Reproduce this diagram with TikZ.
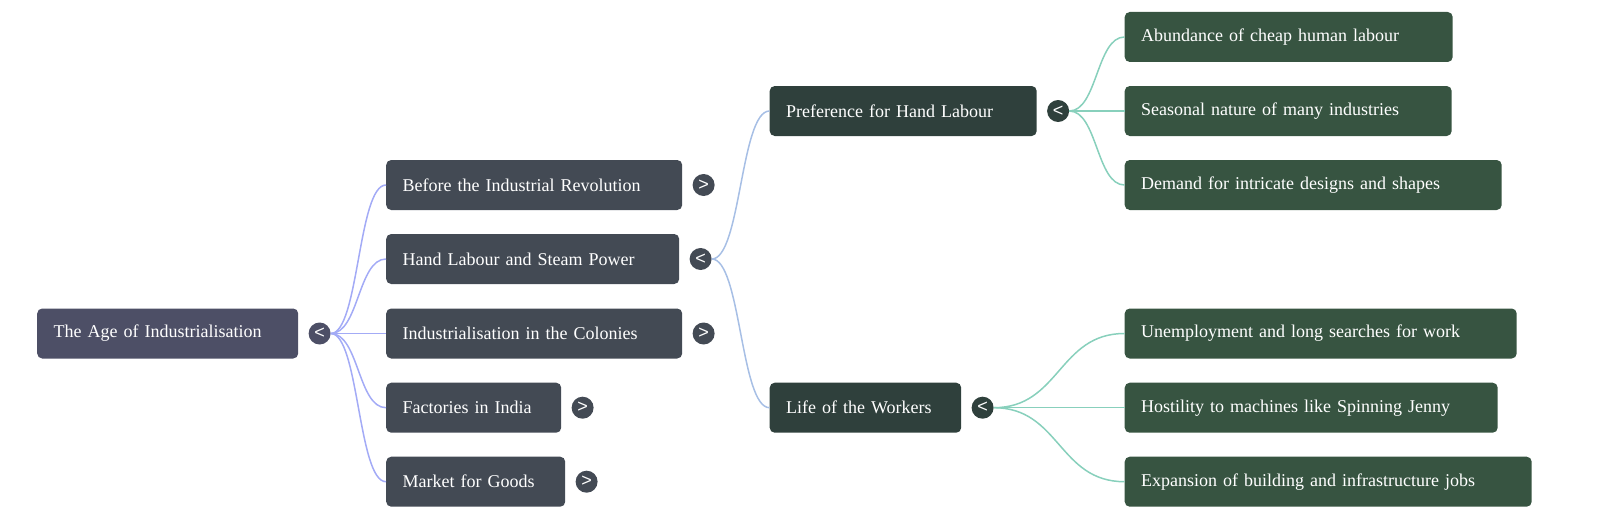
\documentclass[tikz,border=0pt]{standalone}
\usepackage{fontspec}
\setmainfont{Liberation Serif}
\setsansfont{Liberation Sans}
\usetikzlibrary{positioning}
\definecolor{rootfill}{HTML}{4D4F66}
\definecolor{mainfill}{HTML}{434A54}
\definecolor{subfill}{HTML}{2F403C}
\definecolor{leaffill}{HTML}{375441}
\definecolor{mainedge}{HTML}{A3ABF6}
\definecolor{subedge}{HTML}{A7BFE5}
\definecolor{leafedge}{HTML}{88D0BC}
\tikzset{
  topic/.style={anchor=west, rounded corners=5pt, minimum height=50pt, inner xsep=16.5pt,
    align=left, text=white, font=\fontsize{18}{22}\selectfont},
  toggle/.style={shape=circle, inner sep=0pt, minimum size=22pt, text=white,
    font=\sffamily\fontsize{18}{18}\selectfont},
  link/.style={line width=1.5pt}
}
\begin{document}
\begin{tikzpicture}[x=1pt,y=-1pt]
\useasboundingbox (0,0) rectangle (1600,519);

\node[topic, fill=rootfill, text width=228pt] (root) at (37,333.5) {The Age of Industrialisation};

\node[topic, fill=mainfill, text width=263pt] (before) at (386,185) {Before the Industrial Revolution};
\node[topic, fill=mainfill, text width=260pt] (hand) at (386,259) {Hand Labour and Steam Power};
\node[topic, fill=mainfill, text width=263pt] (colonies) at (386,333.5) {Industrialisation in the Colonies};
\node[topic, fill=mainfill, text width=142pt] (india) at (386,407.7) {Factories in India};
\node[topic, fill=mainfill, text width=146pt] (market) at (386,481.7) {Market for Goods};

\node[topic, fill=subfill, text width=234pt] (pref) at (769.5,111) {Preference for Hand Labour};
\node[topic, fill=subfill, text width=158.5pt] (life) at (769.5,407.7) {Life of the Workers};

\node[topic, fill=leaffill, text width=295pt] (cheap) at (1124.5,37) {Abundance of cheap human labour};
\node[topic, fill=leaffill, text width=294pt] (season) at (1124.5,111) {Seasonal nature of many industries};
\node[topic, fill=leaffill, text width=344pt] (demand) at (1124.5,185) {Demand for intricate designs and shapes};
\node[topic, fill=leaffill, text width=359pt] (unemp) at (1124.5,333.5) {Unemployment and long searches for work};
\node[topic, fill=leaffill, text width=340pt] (hostile) at (1124.5,407.7) {Hostility to machines like Spinning Jenny};
\node[topic, fill=leaffill, text width=374pt] (expand) at (1124.5,481.7) {Expansion of building and infrastructure jobs};

\node[toggle, fill=rootfill, right=10pt of root] (troot) {<};
\node[toggle, fill=mainfill, right=10pt of before] (tbefore) {>};
\node[toggle, fill=mainfill, right=10pt of hand] (thand) {<};
\node[toggle, fill=mainfill, right=10pt of colonies] (tcolonies) {>};
\node[toggle, fill=mainfill, right=10pt of india] (tindia) {>};
\node[toggle, fill=mainfill, right=10pt of market] (tmarket) {>};
\node[toggle, fill=subfill, right=10pt of pref] (tpref) {<};
\node[toggle, fill=subfill, right=10pt of life] (tlife) {<};

\foreach \n in {before,hand,colonies,india,market}
  \draw[link, mainedge] (troot.east) .. controls +(28,0) and +(-28,0) .. (\n.west);
\foreach \n in {pref,life}
  \draw[link, subedge] (thand.east) .. controls +(29,0) and +(-29,0) .. (\n.west);
\foreach \n in {cheap,season,demand}
  \draw[link, leafedge] (tpref.east) .. controls +(28,0) and +(-28,0) .. (\n.west);
\foreach \n in {unemp,hostile,expand}
  \draw[link, leafedge] (tlife.east) .. controls +(66,0) and +(-66,0) .. (\n.west);
\end{tikzpicture}
\end{document}
